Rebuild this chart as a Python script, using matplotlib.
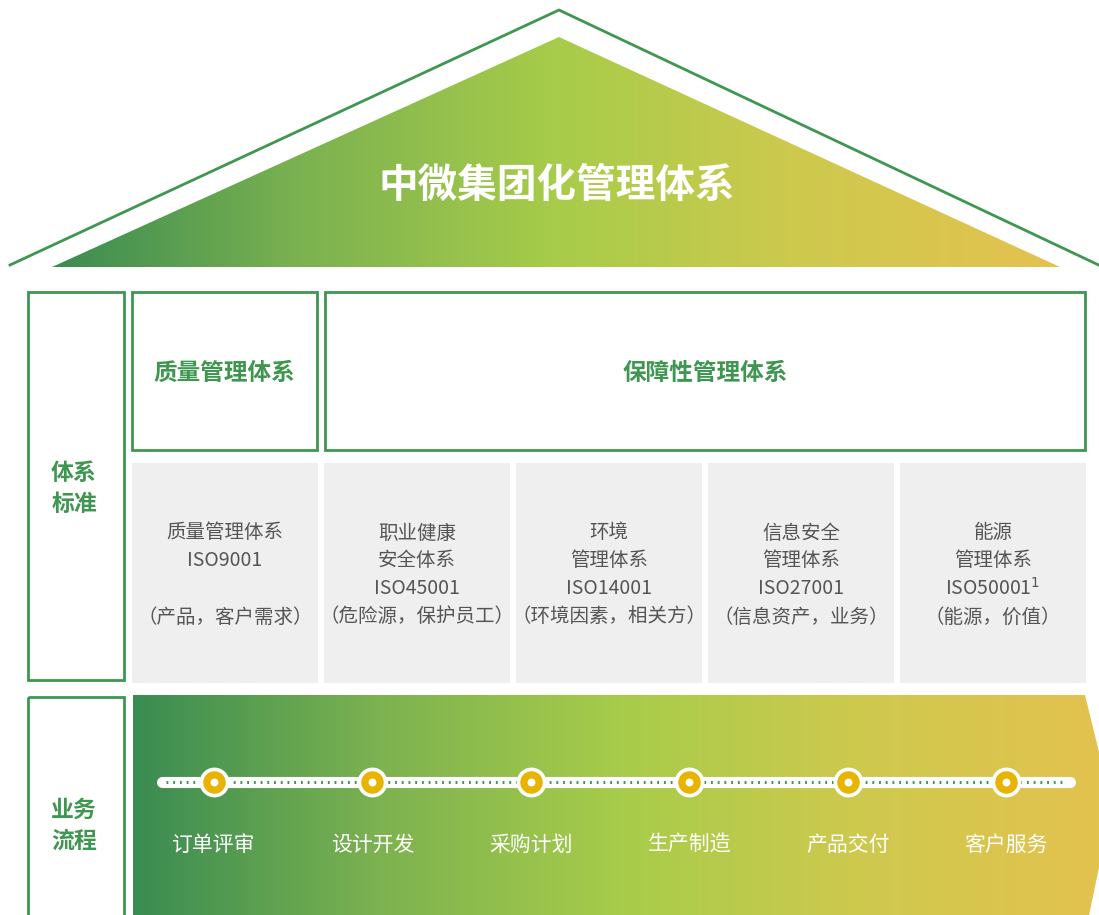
import numpy as np
import matplotlib
matplotlib.use("Agg")
import matplotlib.pyplot as plt
from matplotlib.colors import LinearSegmentedColormap
from matplotlib.patches import Polygon, Rectangle

plt.rcParams['font.family'] = ['Noto Sans CJK SC', 'DejaVu Sans']

title = "中微集团化管理体系"
side_labels = ["体系\n标准", "业务\n流程"]
top_boxes = ["质量管理体系", "保障性管理体系"]
standards = [
    ["质量管理体系", "ISO9001", "", "（产品，客户需求）"],
    ["职业健康", "安全体系", "ISO45001", "（危险源，保护员工）"],
    ["环境", "管理体系", "ISO14001", "（环境因素，相关方）"],
    ["信息安全", "管理体系", "ISO27001", "（信息资产，业务）"],
    ["能源", "管理体系", "ISO50001$^{1}$", "（能源，价值）"],
]
steps = ["订单评审", "设计开发", "采购计划", "生产制造", "产品交付", "客户服务"]

GREEN = "#3f9650"
grad = LinearSegmentedColormap.from_list(
    "g", ["#3a8c52", "#7cb250", "#a8cc4a", "#cfc94e", "#e4c24e"])

fig = plt.figure(figsize=(10.99, 9.15), dpi=100)
ax = fig.add_axes([0, 0, 1, 1])
ax.set_xlim(0, 1099)
ax.set_ylim(915, 0)
ax.axis("off")

def gradient_fill(poly, x0, x1, y0, y1):
    ax.add_patch(poly)
    img = ax.imshow(np.linspace(0, 1, 256).reshape(1, -1), cmap=grad,
                    extent=[x0, x1, y1, y0], aspect="auto", zorder=1)
    img.set_clip_path(poly)

# roof
ax.plot([10, 559, 1105], [265, 10, 268], color=GREEN, lw=2, zorder=2)
roof = Polygon([[52, 267], [559, 37], [1060, 267]], closed=True,
               facecolor="none", edgecolor="none")
gradient_fill(roof, 52, 1060, 37, 267)
ax.text(557, 185, title, color="white", fontsize=28.5, fontweight="bold",
        ha="center", va="center", zorder=3)

# side label boxes
for (y0, y1), ty, lab in zip([(292, 680), (697, 930)], [489, 826], side_labels):
    ax.add_patch(Rectangle((28, y0), 96, y1 - y0, fill=False,
                           edgecolor=GREEN, lw=2))
    ax.text(74, ty, lab, color=GREEN, fontsize=16.5, fontweight="bold",
            ha="center", va="center", linespacing=1.45)

# top boxes
for (x0, x1), lab in zip([(132, 317), (325, 1085)], top_boxes):
    ax.add_patch(Rectangle((x0, 292), x1 - x0, 158, fill=False,
                           edgecolor=GREEN, lw=2))
    ax.text((x0 + x1) / 2, 373, lab, color=GREEN, fontsize=17,
            fontweight="bold", ha="center", va="center")

# standard boxes
for i, lines in enumerate(standards):
    x0 = 132 + i * 192
    ax.add_patch(Rectangle((x0, 463), 186, 220, facecolor="#efefef",
                           edgecolor="none"))
    for j, line in enumerate(lines):
        ax.text(x0 + 93, 533 + j * 28, line, color="#555555", fontsize=14,
                ha="center", va="center")

# process arrow
arrow = Polygon([[133, 695], [1085, 695], [1112, 805], [1086, 930],
                 [133, 930]], closed=True, facecolor="none", edgecolor="none")
gradient_fill(arrow, 133, 1112, 695, 930)

ax.plot([162, 1070], [782, 782], color="white", lw=8,
        solid_capstyle="round", zorder=3)
ax.plot([166, 1066], [782, 782], color="#3f9650", lw=2.2,
        linestyle=(0, (0.6, 1.6)), zorder=4)
xs = np.linspace(214, 1006, len(steps))
ax.scatter(xs, [782] * len(xs), s=420, color="white", zorder=5)
ax.scatter(xs, [782] * len(xs), s=230, color="#e8b400", zorder=6)
ax.scatter(xs, [782] * len(xs), s=22, color="white", zorder=7)
for x, s in zip(xs, steps):
    ax.text(x, 845, s, color="white", fontsize=15, ha="center",
            va="center", zorder=5)

fig.savefig("out.png", dpi=100)
